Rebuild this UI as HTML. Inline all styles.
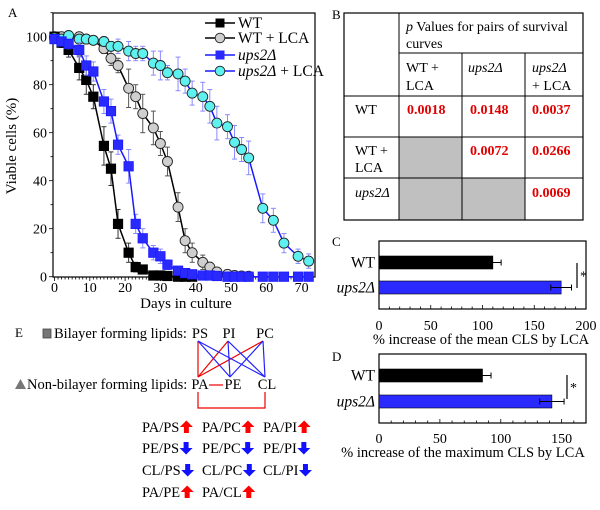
<!DOCTYPE html>
<html><head><meta charset="utf-8">
<style>
html,body{margin:0;padding:0;background:#fff;}
svg{display:block;font-family:"Liberation Serif",serif;}
</style></head>
<body>
<svg id="fig" width="600" height="510" viewBox="0 0 600 510" xmlns="http://www.w3.org/2000/svg">
<g id="panelA"></g>
<g id="panelB"></g>
<g id="panelC"></g>
<g id="panelD"></g>
<g id="panelE"></g>
</svg>
<script>
// ---- Panel A data ----
const wtDays = [0,2,4,7,9,11,14,16,18,21,23,25,28,30,32,35,37,39];
const wtVals = [100,97.5,94.5,87,82,75,54.5,45,22,10,4,3,0.5,0.5,0.3,0,0,0];
const wtErr  = [1,2,3,5,6,5,8,7,6,4,2,1,0.5,0.5,0.3,0,0,0];
const wtLcaDays = [0,2,4,7,9,11,14,16,18,21,23,25,28,30,32,35,37,39,42,44,46,49,51,53,55];
const wtLcaVals = [100,100,100,100,99,98.5,95,91,88,78.5,75,68,62,55.5,48,29,15,10,6,4,2,1,0.5,0.3,0.2];
const wtLcaErr  = [0.5,0.5,0.5,0.5,1,1,2,3,3,8,5,8,7,5,6,6,5,4,3,2,1,1,0.5,0.3,0.2];
const upsDays = [0,2,4,7,9,11,14,16,18,21,23,25,28,30,32,35,37,39,42,44,46,49,51,53,55,59,62,65,69,72];
const upsVals = [99,98,97,94.5,88,85.5,73,69,55,46,22,16,10,8.5,5,2.5,1.5,1,0.5,0.5,0.3,0,0,0,0,0,0,0,0,0];
const upsErr  = [1,1,2,3,4,4,5,5,4,7,4,4,3,3,2,1,1,0.5,0.5,0.5,0.3,0,0,0,0,0,0,0,0,0];
const upsLcaDays = [0,2,4,7,9,11,14,16,18,21,23,25,28,30,32,35,37,39,42,44,46,49,51,53,55,59,62,65,69,72];
const upsLcaVals = [99.5,99,100.5,99,99,98.5,98,96,96,94,93,93,89,88,85,84.5,81.5,76.5,75,71,64,62.5,56,53,49.5,28.5,23.5,14,8.5,6.5];
const upsLcaErr  = [1,1,1,1,1,1,2,2,3,4,3,3,5,6,3,7,5,5,6,7,7,5,7,5,7,6,5,4,3,3];
const aXTicks = [0,10,20,30,40,50,60,70];
const aYTicks = [0,20,40,60,80,100];
// ---- Panel C/D data ----
const barCats = ["WT","ups2Δ"];
const meanVals = [110,176];
const meanErr = [8,10];
const meanTicks = [0,50,100,150,200];
const maxVals = [85,142];
const maxErr = [7,10];
const maxTicks = [0,50,100,150];

const NS="http://www.w3.org/2000/svg";
function mk(parent,tag,attrs,text){const e=document.createElementNS(NS,tag);for(const k in attrs)e.setAttribute(k,attrs[k]);if(text!==undefined)e.textContent=text;parent.appendChild(e);return e;}

// ===== Panel A =====
(function(){
const g=document.getElementById('panelA');
const L=53,R=315,T=13,B=277;
const xs=d=>54.5+d*3.53;
const ys=v=>276.7-v*2.4;
let e=mk(g,'text',{x:8,y:17,'font-size':13},'A');


e=mk(g,'rect',{x:L,y:T,width:R-L,height:B-T,fill:'none',stroke:'#000','stroke-width':1.2});


for(let d=0;d<=73;d++){mk(g,'line',{x1:xs(d),x2:xs(d),y1:B,y2:B+(d%10===0?4:2.5),stroke:'#000','stroke-width':0.8});}
for(let v=0;v<=110;v+=10){mk(g,'line',{x1:L,x2:L-(v%20===0?4:2.5),y1:ys(v),y2:ys(v),stroke:'#000','stroke-width':0.8});}
aXTicks.forEach(t=>{const e=mk(g,'text',{x:xs(t),y:292,'font-size':14,'text-anchor':'middle'},String(t));

});
aYTicks.forEach(t=>{const e=mk(g,'text',{x:47,y:ys(t)+5,'font-size':14,'text-anchor':'end'},String(t));

});
e=mk(g,'text',{x:186,y:308,'font-size':15,'text-anchor':'middle'},'Days in culture');


e=mk(g,'text',{x:0,y:0,'font-size':15,'text-anchor':'middle',transform:'translate(16,146) rotate(-90)'},'Viable cells (%)');


function series(name,days,vals,errs,color,ecolor,shape,fill){
 const s=mk(g,'g',{});
 
 
 days.forEach((d,i)=>{if(errs[i]>0.5){const x=xs(d),y1=ys(vals[i]+errs[i]),y2=ys(vals[i]-errs[i]);
  mk(s,'line',{x1:x,x2:x,y1:y1,y2:y2,stroke:ecolor,'stroke-width':1});
  mk(s,'line',{x1:x-2.5,x2:x+2.5,y1:y1,y2:y1,stroke:ecolor,'stroke-width':1});
  mk(s,'line',{x1:x-2.5,x2:x+2.5,y1:y2,y2:y2,stroke:ecolor,'stroke-width':1});}});
 mk(s,'polyline',{points:days.map((d,i)=>xs(d)+','+ys(vals[i])).join(' '),fill:'none',stroke:color,'stroke-width':1.5});
 days.forEach((d,i)=>{let m;
  if(shape==='sq')m=mk(s,'rect',{x:xs(d)-4.7,y:ys(vals[i])-4.7,width:9.4,height:9.4,fill:fill,stroke:color,'stroke-width':0.8});
  else m=mk(s,'circle',{cx:xs(d),cy:ys(vals[i]),r:5,fill:fill,stroke:'#222','stroke-width':0.9});
  
  });
}
series('series-wt-lca',wtLcaDays,wtLcaVals,wtLcaErr,'#000','#555','ci','#cfcfcf');
series('series-wt',wtDays,wtVals,wtErr,'#000','#333','sq','#000');
series('series-ups2-lca',upsLcaDays,upsLcaVals,upsLcaErr,'#1a1aff','#8a8aff','ci','#5ff0f0');
series('series-ups2',upsDays,upsVals,upsErr,'#1a1aff','#8a8aff','sq','#2a2aff');
// legend
const leg=[['WT','#000','sq','#000',false],['WT + LCA','#000','ci','#cfcfcf',false],['ups2Δ','#1a1aff','sq','#2a2aff',true],['ups2Δ + LCA','#1a1aff','ci','#5ff0f0',true]];
const lyy=[23,38,55,71];
leg.forEach((l,i)=>{const lg=mk(g,'g',{});
 
 
 const y=lyy[i];
 mk(lg,'line',{x1:205,x2:235,y1:y,y2:y,stroke:l[1],'stroke-width':1.5});
 if(l[2]==='sq')mk(lg,'rect',{x:215.5,y:y-4.5,width:9,height:9,fill:l[3]});
 else mk(lg,'circle',{cx:220,cy:y,r:4.8,fill:l[3],stroke:'#222','stroke-width':0.9});
 const t=mk(lg,'text',{x:238,y:y+5,'font-size':15.5});
 if(l[4]){mk(t,'tspan',{'font-style':'italic'},'ups2Δ');if(l[0].length>6)mk(t,'tspan',{},' + LCA');}
 else t.textContent=l[0];
});
})();

// ===== Panel B =====
(function(){
const g=document.getElementById('panelB');
let e=mk(g,'text',{x:332,y:19,'font-size':13},'B');


const cx=[344,399,462,525,583], ry=[13,53,96,137,178,220];
[[3,1],[4,1],[4,2]].forEach(([r,c])=>{const e=mk(g,'rect',{x:cx[c],y:ry[r],width:cx[c+1]-cx[c],height:ry[r+1]-ry[r],fill:'#c0c0c0'});
 
 });
mk(g,'rect',{x:344,y:13,width:239,height:207,fill:'none',stroke:'#000','stroke-width':1.2});
[399].forEach(x=>mk(g,'line',{x1:x,x2:x,y1:13,y2:220,stroke:'#000','stroke-width':1}));
[462,525].forEach(x=>mk(g,'line',{x1:x,x2:x,y1:53,y2:220,stroke:'#000','stroke-width':1}));
mk(g,'line',{x1:399,x2:583,y1:53,y2:53,stroke:'#000','stroke-width':1});
[96,137,178].forEach(y=>mk(g,'line',{x1:344,x2:583,y1:y,y2:y,stroke:'#000','stroke-width':1}));
const T=(x,y,s,o)=>{const e=mk(g,'text',Object.assign({x:x,y:y,'font-size':14},o||{}),s);return e;};
let h=T(406,31,'');mk(h,'tspan',{'font-style':'italic'},'p');mk(h,'tspan',{},' Values for pairs of survival');
T(406,48,'curves');
T(406,72,'WT +');T(406,90,'LCA');
T(468,72,'ups2Δ',{'font-style':'italic'});
T(532,72,'ups2Δ',{'font-style':'italic'});T(532,90,'+ LCA');
T(355,114,'WT');T(355,155,'WT +');T(355,172,'LCA');
T(355,197,'ups2Δ',{'font-style':'italic'});
const red={fill:'#e00000','font-weight':'bold'};
T(407,114,'0.0018',red);T(470,114,'0.0148',red);T(532,114,'0.0037',red);
T(470,155,'0.0072',red);T(532,155,'0.0266',red);
T(532,197,'0.0069',red);
})();

// ===== Panels C & D =====
function barPanel(id,label,ly,top,bot,maxX,vals,errs,ticks,title,tickY,titleY,barY,sig,titleX){
 const g=document.getElementById(id);
 const L=379,R=586;
 const xs=v=>L+v*(R-L)/maxX;
 let e=mk(g,'text',{x:332,y:ly,'font-size':13},label);
 
 
 e=mk(g,'rect',{x:L,y:top,width:R-L,height:bot-top,fill:'none',stroke:'#000','stroke-width':1.2});
 
 
 for(let v=0;v<=maxX;v+=10)mk(g,'line',{x1:xs(v),x2:xs(v),y1:bot,y2:bot-(v%50===0?4:2.5),stroke:'#000','stroke-width':0.8});
 ticks.forEach(t=>{const e=mk(g,'text',{x:xs(t),y:tickY,'font-size':14,'text-anchor':'middle'},String(t));
  
  });
 e=mk(g,'text',{x:titleX,y:titleY,'font-size':14.5,'text-anchor':'middle'},title);
 
 
 barCats.forEach((c,i)=>{
  const y=barY[i];
  const b=mk(g,'rect',{x:L,y:y,width:xs(vals[i])-L,height:13,fill:i?'#2a2aff':'#000',stroke:'#000','stroke-width':0.6});
  
  
  const cy=y+6.5,x1=xs(vals[i]-errs[i]),x2=xs(vals[i]+errs[i]);
  mk(g,'line',{x1:x1,x2:x2,y1:cy,y2:cy,stroke:'#000','stroke-width':1});
  mk(g,'line',{x1:x2,x2:x2,y1:cy-3,y2:cy+3,stroke:'#000','stroke-width':1});
  if(i)mk(g,'line',{x1:x1,x2:x1,y1:cy-3,y2:cy+3,stroke:'#000','stroke-width':1});
  const t=mk(g,'text',{x:375,y:cy+5,'font-size':15.5,'text-anchor':'end','font-style':i?'italic':'normal'},c);
  
  
 });
 e=mk(g,'line',{x1:sig[0],x2:sig[0],y1:sig[1],y2:sig[2],stroke:'#000','stroke-width':1.2});
 
 
 e=mk(g,'text',{x:sig[0]+3,y:(sig[1]+sig[2])/2+5,'font-size':14},'*');
 
 
}
barPanel('panelC','C',246,241,309,200,meanVals,meanErr,meanTicks,'% increase of the mean CLS by LCA',330,344,[256,281],[577,263,288],481);
barPanel('panelD','D',361,354,423,170,maxVals,maxErr,maxTicks,'% increase of the maximum CLS by LCA',443,457,[369,395],[567,375,399],463);

// ===== Panel E =====
(function(){
const g=document.getElementById('panelE');
const T=(x,y,s,o)=>{const e=mk(g,'text',Object.assign({x:x,y:y,'font-size':14.5},o||{}),s);return e;};
T(15,337,'E',{'font-size':13});
let e=mk(g,'rect',{x:43,y:329,width:8,height:9,fill:'#777',stroke:'#444','stroke-width':0.8});


T(54,338,'Bilayer forming lipids:');
e=mk(g,'polygon',{points:'15,389 26,389 20.5,379',fill:'#777'});


T(27,389,'Non-bilayer forming lipids:');
T(200,338,'PS',{'text-anchor':'middle'});T(229,338,'PI',{'text-anchor':'middle'});T(265,338,'PC',{'text-anchor':'middle'});
T(200,389,'PA',{'text-anchor':'middle'});T(233,389,'PE',{'text-anchor':'middle'});T(267,389,'CL',{'text-anchor':'middle'});
const top={PS:198,PI:228,PC:263}, bot={PA:198,PE:230,CL:265};
const Ln=(a,b,c)=>{const e=mk(g,'line',{x1:top[a],y1:341,x2:bot[b],y2:377,stroke:c,'stroke-width':1.2});};
Ln('PS','PA','#e00');Ln('PI','PA','#e00');Ln('PC','PA','#e00');
Ln('PS','PE','#22f');Ln('PS','CL','#22f');Ln('PI','PE','#22f');Ln('PI','CL','#22f');Ln('PC','PE','#22f');Ln('PC','CL','#22f');
mk(g,'line',{x1:209,x2:223,y1:385,y2:385,stroke:'#e00','stroke-width':1.2});
mk(g,'polyline',{points:'198,392 198,408 265,408 265,392',fill:'none',stroke:'#e00','stroke-width':1.2});
const rows=[[['PA/PS',1],['PA/PC',1],['PA/PI',1]],[['PE/PS',0],['PE/PC',0],['PE/PI',0]],[['CL/PS',0],['CL/PC',0],['CL/PI',0]],[['PA/PE',1],['PA/CL',1]]];
const ry=[432,453,475,497], cxs=[142,202,263];
rows.forEach((r,i)=>r.forEach((c,j)=>{
 const t=T(cxs[j],ry[i],c[0]);
 let w=37;try{w=t.getComputedTextLength()||37;}catch(err){}
 const ax=cxs[j]+w+0.5, y=ry[i]-5;
 let p;
 if(c[1])p=mk(g,'polygon',{points:`${ax},${y} ${ax+6.5},${y-6.5} ${ax+13},${y} ${ax+9},${y} ${ax+9},${y+6} ${ax+4},${y+6} ${ax+4},${y}`,fill:'#f00'});
 else p=mk(g,'polygon',{points:`${ax},${y} ${ax+6.5},${y+6.5} ${ax+13},${y} ${ax+9},${y} ${ax+9},${y-6} ${ax+4},${y-6} ${ax+4},${y}`,fill:'#11f'});
 
 
}));
})();
</script>
</body></html>
